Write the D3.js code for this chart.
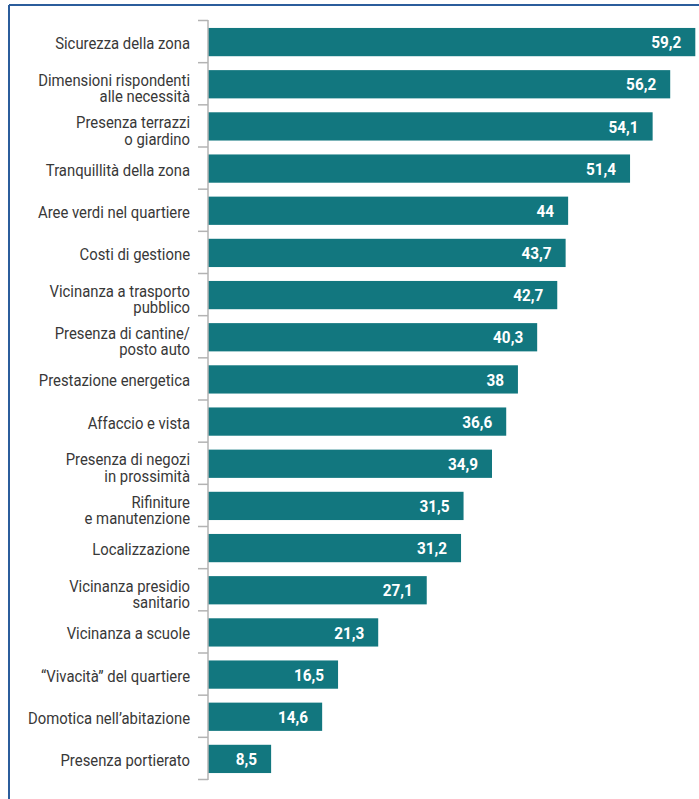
<!DOCTYPE html>
<html>
<head>
<meta charset="utf-8">
<script src="https://cdn.jsdelivr.net/npm/d3@7/dist/d3.min.js"></script>
<style>
  html, body { margin: 0; padding: 0; background: #fff; }
  svg { display: block; }
</style>
</head>
<body>
<svg id="chart" width="699" height="799"></svg>
<script>
// Factors driving home choice (%), one bar per factor
const categories = [
  "Sicurezza della zona",
  "Dimensioni rispondenti\nalle necessità",
  "Presenza terrazzi\no giardino",
  "Tranquillità della zona",
  "Aree verdi nel quartiere",
  "Costi di gestione",
  "Vicinanza a trasporto\npubblico",
  "Presenza di cantine/\nposto auto",
  "Prestazione energetica",
  "Affaccio e vista",
  "Presenza di negozi\nin prossimità",
  "Rifiniture\ne manutenzione",
  "Localizzazione",
  "Vicinanza presidio\nsanitario",
  "Vicinanza a scuole",
  "“Vivacità” del quartiere",
  "Domotica nell’abitazione",
  "Presenza portierato"
];
const values = [59.2, 56.2, 54.1, 51.4, 44, 43.7, 42.7, 40.3, 38, 36.6, 34.9, 31.5, 31.2, 27.1, 21.3, 16.5, 14.6, 8.5];

const svg = d3.select("#chart");
const W = 699, H = 799;
const barColor = "#12777f";
const axisX = 208;

const it = d3.formatLocale({ decimal: ",", thousands: ".", grouping: [3], currency: ["€", ""] });
const fmt = v => it.format(",")(v);

// frame: top and left rules
svg.append("line").attr("x1", 9).attr("x2", W).attr("y1", 5).attr("y2", 5)
  .attr("stroke", "#2b5d9c").attr("stroke-width", 2);
svg.append("line").attr("x1", 9).attr("x2", 9).attr("y1", 5).attr("y2", H)
  .attr("stroke", "#2b5d9c").attr("stroke-width", 2);

const y = d3.scaleBand()
  .domain(categories)
  .range([21, 780])
  .paddingInner(0.33)
  .paddingOuter(0.165);

const x = d3.scaleLinear().domain([0, 60]).range([200, 702]);

const rows = categories.map((c, i) => ({ c, v: values[i] }));

// bars
svg.append("g").selectAll("rect").data(rows).join("rect")
  .attr("x", axisX)
  .attr("y", d => y(d.c))
  .attr("width", d => x(d.v) - axisX)
  .attr("height", y.bandwidth())
  .attr("fill", barColor);

// value labels inside the bar ends (condensed bold)
svg.append("g").selectAll("text").data(rows).join("text")
  .attr("transform", d => `translate(${x(d.v) - 14},${y(d.c) + y.bandwidth() / 2}) scale(0.9,1)`)
  .attr("dy", "0.36em")
  .attr("text-anchor", "end")
  .attr("fill", "#fff")
  .attr("font-family", "Roboto, 'Liberation Sans', sans-serif")
  .attr("font-weight", "bold")
  .attr("font-size", 17)
  .text(d => fmt(d.v));

// category axis: vertical rule with ticks between bands
const r0 = y.range()[0], r1 = y.range()[1];
const axis = svg.append("g").attr("stroke", "#b3b3b3").attr("stroke-width", 1.5);
axis.append("line").attr("x1", axisX).attr("x2", axisX).attr("y1", r0 - 1).attr("y2", r1);
axis.selectAll("line.tick").data(d3.range(categories.length + 1)).join("line")
  .attr("class", "tick")
  .attr("x1", axisX - 10).attr("x2", axisX)
  .attr("y1", i => r0 + i * y.step() - 0.5)
  .attr("y2", i => r0 + i * y.step() - 0.5);

// category labels, horizontally condensed
const lab = svg.append("g").selectAll("text").data(rows).join("text")
  .attr("transform", d => `translate(190,${y(d.c) + y.bandwidth() / 2}) scale(0.9,1)`)
  .attr("text-anchor", "end")
  .attr("fill", "#383838")
  .attr("font-family", "Roboto, 'Liberation Sans', sans-serif")
  .attr("font-size", 16.5);
lab.each(function(d) {
  const lines = d.c.split("\n");
  const t = d3.select(this);
  const lh = 16.5;
  const first = -((lines.length - 1) * lh) / 2 + 2;
  lines.forEach((ln, k) => {
    t.append("tspan").attr("x", 0).attr("y", first + k * lh + (lines.length > 1 ? 2 : -1))
      .attr("dy", "0.36em").text(ln);
  });
});
</script>
</body>
</html>
